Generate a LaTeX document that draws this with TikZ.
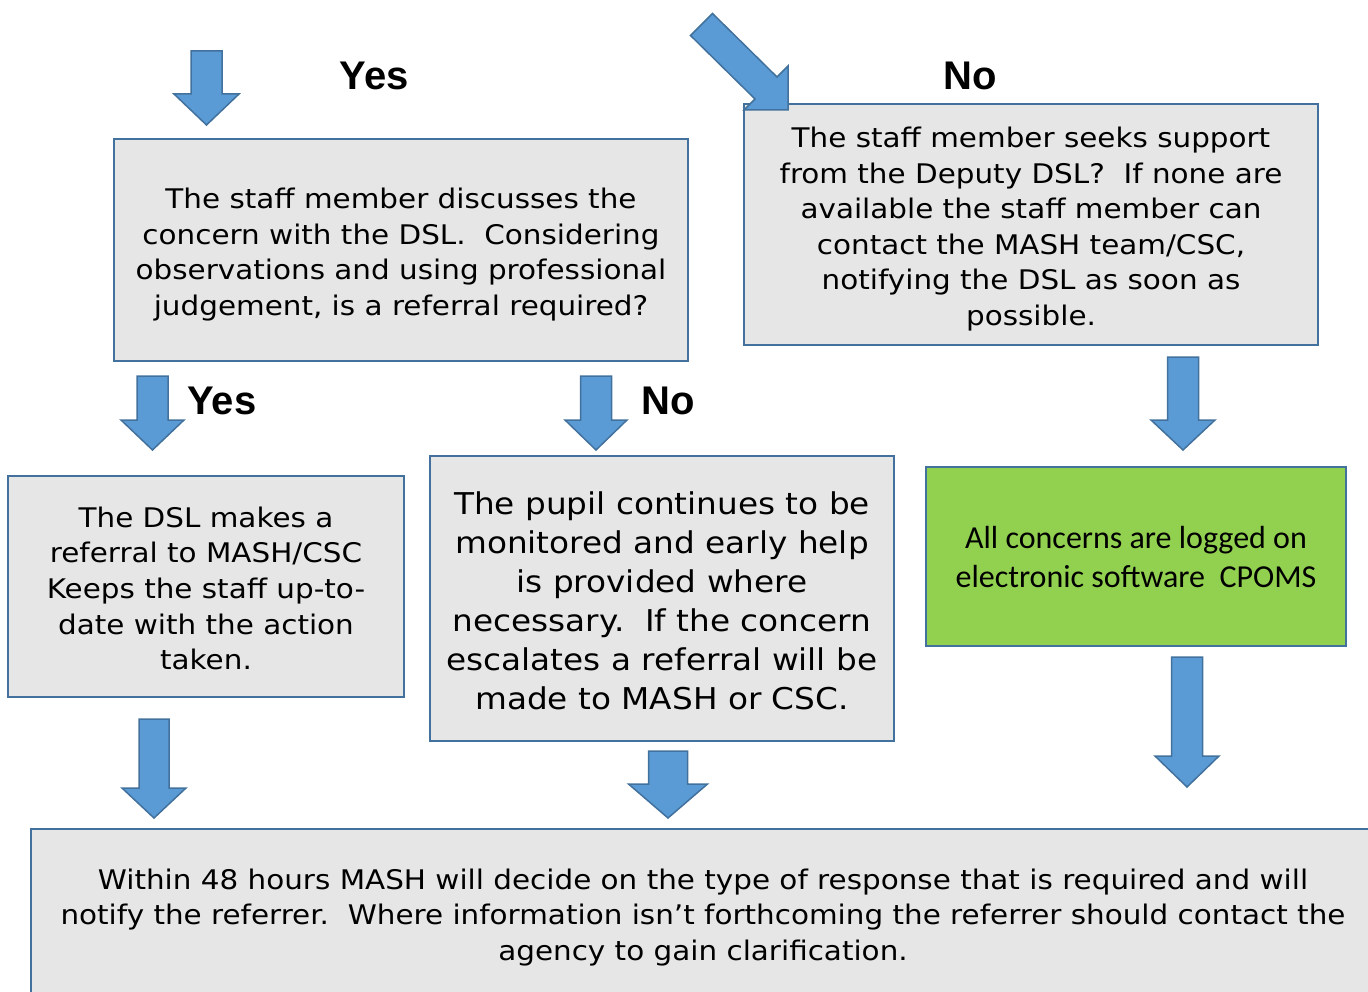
\documentclass[tikz,border=0pt]{standalone}
\usepackage{fontspec}
\setmainfont{DejaVu Sans}[FakeStretch=1.09]
\newfontfamily\calibfont{Carlito}
\newfontfamily\arialfont{Liberation Sans}
\definecolor{boxgray}{HTML}{E7E6E6}
\definecolor{boxblue}{HTML}{41719C}
\definecolor{arrowblue}{HTML}{5B9BD5}
\definecolor{greenfill}{HTML}{92D050}
\tikzset{
  box/.style={draw=boxblue, line width=2.5pt, fill=boxgray, inner sep=0pt},
  greenbox/.style={box, fill=greenfill},
  txt/.style={inner sep=0pt, align=center, font=\fontsize{27}{35.6}\selectfont},
  bigtxt/.style={txt, font=\fontsize{30}{39}\selectfont},
  greentxt/.style={txt, font=\calibfont\fontsize{32}{39}\selectfont},
  blockarrow/.style={draw=boxblue, line width=1.5pt, fill=arrowblue, line join=miter},
  yesno/.style={font=\arialfont\bfseries\fontsize{40}{40}\selectfont, anchor=base, inner sep=0pt}
}
% down block arrow: #1 center x, #2 top y, #3 head base y, #4 tip y, #5 shaft half width, #6 head half width
\newcommand{\downblock}[6]{%
  \draw[blockarrow] ({#1-#5},#2) -- ({#1+#5},#2) -- ({#1+#5},#3) -- ({#1+#6},#3) -- (#1,#4)
    -- ({#1-#6},#3) -- ({#1-#5},#3) -- cycle;}
\begin{document}
\begin{tikzpicture}[x=1pt,y=-1pt]
\useasboundingbox (0,0) rectangle (1368,992);
\clip (0,0) rectangle (1368,992);

% boxes
\node[box, minimum width=574, minimum height=222] (discuss) at (401,250) {};
\node[txt] (discusstxt) at ([yshift=-4.5pt]discuss.center)
  {The staff member discusses the\\concern with the DSL.\ \ Considering\\observations and using professional\\judgement, is a referral required?};
\node[box, minimum width=574, minimum height=241] (deputy) at (1031,224.5) {};
\node[txt] (deputytxt) at ([yshift=-4.5pt]deputy.center)
  {The staff member seeks support\\from the Deputy DSL?\ \ If none are\\available the staff member can\\contact the MASH team/CSC,\\notifying the DSL as soon as\\possible.};
\node[box, minimum width=396, minimum height=221] (referral) at (206,586.5) {};
\node[txt] (referraltxt) at ([yshift=-2pt]referral.center)
  {The DSL makes a\\referral to MASH/CSC\\Keeps the staff up-to-\\date with the action\\taken.};
\node[box, minimum width=464, minimum height=285] (monitor) at (662,598.5) {};
\node[bigtxt] (monitortxt) at ([yshift=-2pt]monitor.center)
  {The pupil continues to be\\monitored and early help\\is provided where\\necessary.\ \ If the concern\\escalates a referral will be\\made to MASH or CSC.};
\node[greenbox, minimum width=420, minimum height=179] (cpoms) at (1136,556.5) {};
\node[greentxt] (cpomstxt) at ([yshift=-1pt]cpoms.center)
  {All concerns are logged on\\electronic software\ \ CPOMS};
\node[box, minimum width=1344, minimum height=172] (mash) at (703,915) {};
\node[txt] (mashtxt) at ([yshift=-2.5pt]mash.center)
  {Within 48 hours MASH will decide on the type of response that is required and will\\notify the referrer.\ \ Where information isn’t forthcoming the referrer should contact the\\agency to gain clarification.};

% labels
\node[yesno] (yes1) at (374,90) {Yes};
\node[yesno] (no1) at (970,90) {No};
\node[yesno] (yes2) at (222,414) {Yes};
\node[yesno] (no2) at (668,414) {No};

% block arrows
\downblock{206.5}{51}{94}{125}{15.5}{32.5}
\downblock{152.5}{376}{420}{450}{15.5}{31.5}
\downblock{596}{376}{420}{450}{15.5}{31}
\downblock{1183}{357}{420}{450}{15.5}{32}
\downblock{154}{719}{788}{818}{15}{32}
\downblock{668}{751}{784}{818}{19.5}{39.5}
\downblock{1187}{657}{756}{787}{15.5}{32}
\draw[blockarrow] (712.5,13.5) -- (777,77) -- (788,66) -- (788,110) -- (744,110) -- (755,99) -- (690.5,35.5) -- cycle;
\end{tikzpicture}
\end{document}
